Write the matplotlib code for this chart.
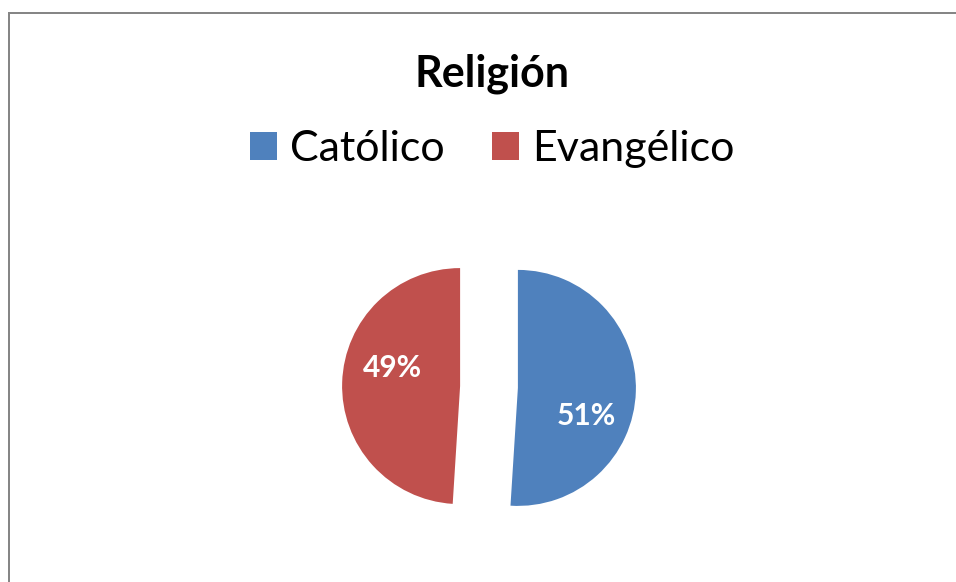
import matplotlib
matplotlib.use("Agg")
import matplotlib.pyplot as plt
from matplotlib.patches import Patch
from matplotlib.lines import Line2D
import numpy as np

categories = ["Católico", "Evangélico"]
values = [51, 49]
colors = ["#4F81BD", "#C0504D"]
title = "Religión"

W, H = 956, 582
fig = plt.figure(figsize=(W / 100, H / 100), dpi=100)
fig.patch.set_facecolor("white")

ax = fig.add_axes([0, 0, 1, 1])

R = 118
cx, cy = 489, H - 387
explode_frac = 0.245
wedges, texts, autotexts = ax.pie(
    values, colors=colors, startangle=90, counterclock=False,
    explode=[explode_frac * R] * len(values), radius=R, center=(cx, cy),
    autopct="%1.0f%%", pctdistance=0.6,
    wedgeprops=dict(linewidth=0), frame=True,
    textprops=dict(color="white", fontsize=21.5, fontweight="bold", family="Lato"))
ax.set_xlim(0, W)
ax.set_ylim(0, H)
ax.set_aspect("equal")
ax.axis("off")

for w, t in zip(wedges, autotexts):
    mid = np.deg2rad((w.theta1 + w.theta2) / 2 - 17)
    x0, y0 = w.center
    t.set_position((x0 + 0.61 * R * np.cos(mid),
                    y0 + 0.61 * R * np.sin(mid) - 5))
    t.set_ha("center")
    t.set_va("center")

fig.text(492.5 / W, (H - 87) / H, title, ha="center", va="baseline",
         fontsize=31, fontweight="bold", family="Lato", color="black")

handles = [Patch(facecolor=c, edgecolor="none") for c in colors]
fig.legend(handles, categories, loc="center", ncol=2,
           bbox_to_anchor=(492.5 / W, (H - 149) / H), frameon=False,
           prop=dict(family="Lato", size=31),
           handlelength=0.63, handleheight=0.63, handletextpad=0.30,
           columnspacing=1.1, borderpad=0, borderaxespad=0)

# chart border (top and left)
lw = 1.44
fig.add_artist(Line2D([8.5 / W, 1], [(H - 12.5) / H, (H - 12.5) / H],
                      transform=fig.transFigure, color="#868686", lw=lw))
fig.add_artist(Line2D([8.5 / W, 8.5 / W], [0, (H - 12.5) / H],
                      transform=fig.transFigure, color="#868686", lw=lw))

fig.savefig("out.png", dpi=100, facecolor="white")
